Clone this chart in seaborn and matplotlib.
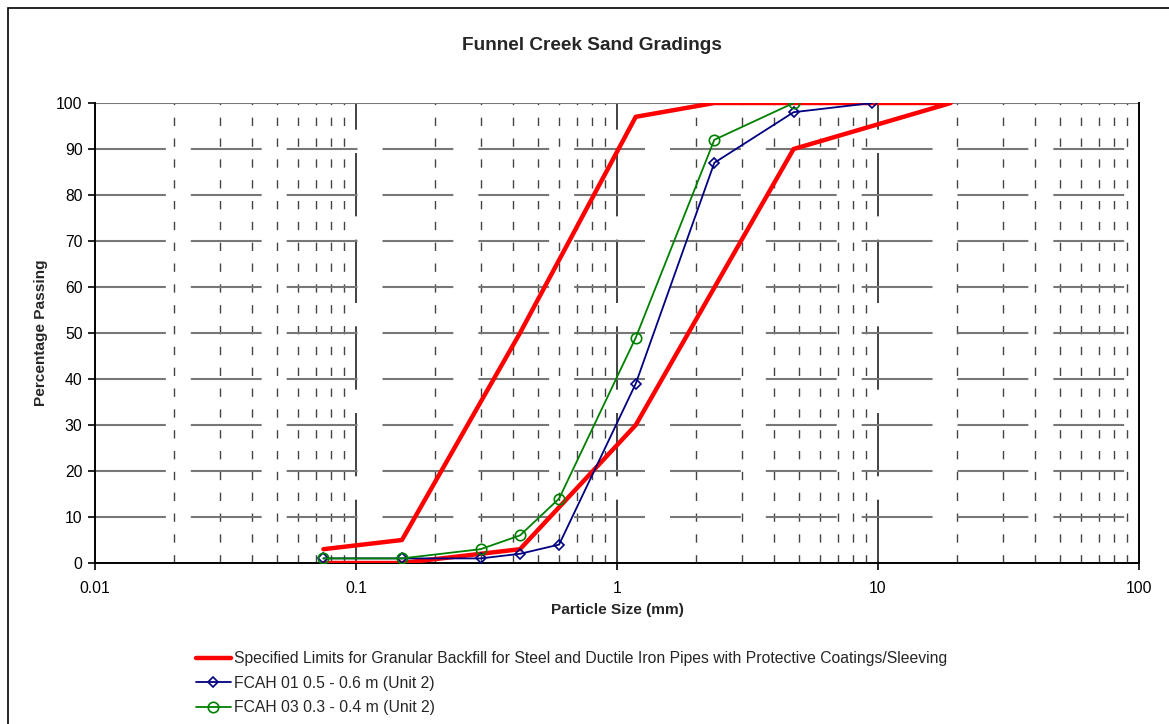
import matplotlib
matplotlib.use("Agg")
import matplotlib.pyplot as plt
from matplotlib.patches import Rectangle
from matplotlib.ticker import FixedLocator, NullFormatter, NullLocator
import seaborn as sns
import pandas as pd

sns.set_theme(style="white")
plt.rcParams["font.family"] = ["Liberation Sans", "DejaVu Sans"]

# Specified grading envelope (upper limit then lower limit, drawn as one path)
limit_size = [0.075, 0.15, 0.425, 1.18, 2.36, 19.0, 4.75, 1.18, 0.425, 0.15, 0.075]
limit_pass = [3, 5, 50, 97, 100, 100, 90, 30, 3, 0, 0]

# Sample gradings
fcah01_size = [0.075, 0.15, 0.3, 0.425, 0.6, 1.18, 2.36, 4.75, 9.5]
fcah01_pass = [1, 1, 1, 2, 4, 39, 87, 98, 100]

fcah03_size = [0.075, 0.15, 0.3, 0.425, 0.6, 1.18, 2.36, 4.75]
fcah03_pass = [1, 1, 3, 6, 14, 49, 92, 100]

labels = [
    "Specified Limits for Granular Backfill for Steel and Ductile Iron Pipes with Protective Coatings/Sleeving",
    "FCAH 01 0.5 - 0.6 m (Unit 2)",
    "FCAH 03 0.3 - 0.4 m (Unit 2)",
]
x_ticks = [0.01, 0.1, 1, 10, 100]
x_tick_labels = ["0.01", "0.1", "1", "10", "100"]
y_ticks = list(range(0, 101, 10))

fig = plt.figure(figsize=(11.69, 7.24), dpi=100)
ax = fig.add_axes([95 / 1169, 1 - 563 / 724, (1139 - 95) / 1169, (563 - 103) / 724])

# chart border
fig.patches.append(Rectangle((8 / 1169, -0.05), 1.2, 1 - 8 / 724 + 0.05,
                             transform=fig.transFigure, fill=False,
                             edgecolor="black", linewidth=1.2))

ax.set_xscale("log")
ax.set_xlim(0.01, 100)
ax.set_ylim(0, 100)

# gridlines
minor_pos = [m * 10.0 ** e for e in range(-2, 2) for m in range(2, 10)]
for xv in minor_pos:
    ax.axvline(xv, color="#444444", lw=1.0, dashes=(6, 9), zorder=1)
for xv in [0.1, 1, 10]:
    ax.axvline(xv, color="#222222", lw=1.2, dashes=(38, 14), zorder=1)
for yv in y_ticks[1:-1]:
    ax.axhline(yv, color="#777777", lw=1.5, dashes=(34, 12), zorder=1)
ax.axhline(100, color="#777777", lw=1.5, zorder=1)

df_lim = pd.DataFrame({"size": limit_size, "pass": limit_pass})
df_01 = pd.DataFrame({"size": fcah01_size, "pass": fcah01_pass})
df_03 = pd.DataFrame({"size": fcah03_size, "pass": fcah03_pass})

sns.lineplot(data=df_lim, x="size", y="pass", sort=False, estimator=None,
             color="#ff0000", lw=3.2, ax=ax, label=labels[0], zorder=3)
sns.lineplot(data=df_01, x="size", y="pass", sort=False, estimator=None,
             color="#000080", lw=1.3, marker="D", markersize=5.5,
             markerfacecolor="none", markeredgecolor="#000080", markeredgewidth=1.2,
             ax=ax, label=labels[1], zorder=4)
sns.lineplot(data=df_03, x="size", y="pass", sort=False, estimator=None,
             color="#008000", lw=1.3, marker="o", markersize=7.5,
             markerfacecolor="none", markeredgecolor="#008000", markeredgewidth=1.2,
             ax=ax, label=labels[2], zorder=4)

ax.xaxis.set_major_locator(FixedLocator(x_ticks))
ax.set_xticklabels(x_tick_labels)
ax.xaxis.set_minor_locator(NullLocator())
ax.xaxis.set_minor_formatter(NullFormatter())
ax.set_yticks(y_ticks)

ax.tick_params(axis="both", which="major", direction="out", length=5, width=1.2,
               color="black", labelsize=11.3, labelcolor="black", pad=4,
               bottom=True, left=True)
ax.tick_params(axis="x", pad=8)

for side in ["left", "bottom", "right"]:
    ax.spines[side].set_visible(True)
    ax.spines[side].set_color("black")
    ax.spines[side].set_linewidth(1.4)
ax.spines["top"].set_visible(False)

ax.set_xlabel("Particle Size (mm)", fontsize=11.1, fontweight="bold")
ax.xaxis.set_label_coords(0.5, -(610 - 563) / 460, transform=ax.transAxes)
ax.xaxis.label.set_va("center")
ax.set_ylabel("Percentage Passing", fontsize=11.1, fontweight="bold")
ax.yaxis.set_label_coords(-(95 - 41) / 1044, 0.5)
ax.yaxis.label.set_va("center")
fig.text(592 / 1169, 1 - 46 / 724, "Funnel Creek Sand Gradings",
         ha="center", va="center", fontsize=13.7, fontweight="bold")

handles, lbls = ax.get_legend_handles_labels()
ax.legend_.remove()
fig.legend(handles, lbls, loc="upper left", bbox_to_anchor=(196 / 1169, 1 - 651 / 724),
           frameon=False, fontsize=11.3, handlelength=2.2, handletextpad=0.2,
           labelspacing=0.62, borderaxespad=0, borderpad=0)

fig.savefig("out.png", dpi=100, facecolor="white")
